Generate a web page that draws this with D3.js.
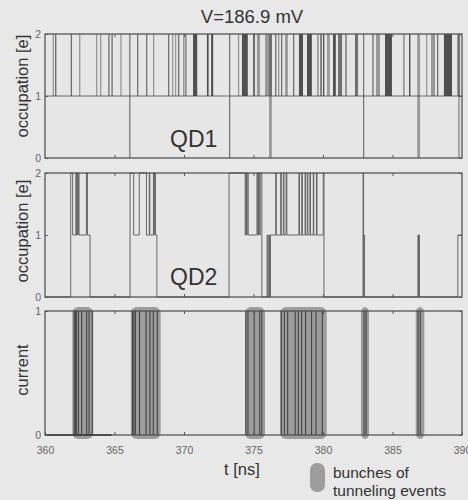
<!DOCTYPE html>
<html>
<head>
<meta charset="utf-8">
<script src="https://cdn.jsdelivr.net/npm/d3@7/dist/d3.min.js"></script>
<style>
  html, body { margin: 0; padding: 0; background: #e8e8e8; }
  svg { display: block; font-family: "Liberation Sans", Arial, Helvetica, sans-serif; }
</style>
</head>
<body>
<svg id="chart" width="468" height="500"></svg>
<script>
// ---------------- DATA ----------------
const title = "V=186.9 mV";
const timeDomain = [360, 390];
const timeTicks = [360, 365, 370, 375, 380, 385, 390];
const occTicks = [0, 1, 2];
const currentTicks = [0, 1];

// QD1: dot sits at occupation 1; excursions to 2 as [t (ns), duration (ns), events]
const qd1Spikes = [
  [360.55, 0.04, 1], [360.72, 0.10, 2], [361.85, 0.05, 2], [362.45, 0.04, 1],
  [363.67, 0.03, 1], [363.96, 0.03, 1], [364.55, 0.08, 2], [364.78, 0.08, 2],
  [365.42, 0.04, 1], [366.62, 0.04, 2], [367.27, 0.05, 2], [367.77, 0.04, 1],
  [368.85, 0.05, 2], [369.14, 0.04, 1], [369.35, 0.05, 1], [369.57, 0.04, 2],
  [369.93, 0.05, 1], [370.05, 0.15, 1], [370.65, 0.30, 3], [371.65, 0.12, 3],
  [371.95, 0.15, 3], [373.88, 0.05, 1], [374.17, 0.42, 3], [374.96, 0.15, 2],
  [375.25, 0.22, 1], [375.83, 0.50, 1], [376.55, 0.04, 2], [376.76, 0.10, 1],
  [376.98, 0.07, 2], [377.27, 0.20, 1], [377.84, 0.05, 2], [378.27, 0.29, 3],
  [378.85, 0.35, 3], [379.57, 0.12, 1], [379.80, 0.12, 2], [380.00, 0.05, 3],
  [380.29, 0.20, 1], [380.72, 0.20, 3], [381.08, 0.29, 2], [381.58, 0.15, 1],
  [382.30, 0.22, 2], [383.52, 0.15, 1], [383.81, 0.29, 1], [384.46, 0.50, 3],
  [385.76, 0.12, 1], [386.19, 0.10, 3], [387.41, 0.08, 1], [387.77, 0.29, 1],
  [388.20, 0.05, 2], [388.70, 0.58, 3], [389.64, 0.22, 1]
];
// QD1: emptying events (occupation drops to 0) as [t, duration, events]
const qd1Dips = [
  [366.06, 0.02, 2], [373.24, 0.02, 2], [376.12, 0.20, 1],
  [382.88, 0.02, 2], [386.78, 0.20, 1], [389.72, 0.12, 1]
];

// QD2: occupation trace, transition times (ns) and level after each transition
const qd2Times = [
  360, 361.85, 361.99, 362.22, 362.26, 362.31, 362.35, 362.40, 362.45, 362.98, 363.05, 363.24,
  366.12, 366.38, 366.78, 367.30, 367.50, 367.54, 367.80, 367.85, 367.90, 367.95, 368.05,
  373.24, 374.40, 374.45, 374.50, 374.55, 374.62, 375.25, 375.30, 375.36, 375.42, 375.48, 375.60,
  375.98, 376.03, 376.10, 376.15, 376.22, 376.60, 376.64, 376.96, 377.00, 377.15, 377.19,
  377.34, 377.40, 378.27, 378.31, 378.47, 378.51, 378.71, 378.75, 378.87, 378.91, 379.06,
  379.10, 379.30, 379.34, 379.53, 379.57, 380.02, 380.07, 382.88, 382.92, 382.95, 382.99,
  386.83, 386.87, 386.90, 386.94, 389.70, 390
];
const qd2Levels = [
  0, 2, 1, 2, 1, 2, 1, 2, 1, 2, 1, 0,
  2, 1, 2, 1, 2, 1, 2, 1, 2, 1, 0,
  2, 1, 2, 1, 2, 1, 2, 1, 2, 1, 2, 0,
  1, 0, 1, 0, 1, 2, 1, 2, 1, 2, 1,
  2, 1, 2, 1, 2, 1, 2, 1, 2, 1, 2,
  1, 2, 1, 2, 1, 2, 0, 2, 0, 1, 0,
  1, 0, 1, 0, 1, 1
];

// Current: single tunneling events through the double dot (ns)
const currentEvents = [
  362.10, 362.18, 362.25, 362.40, 362.64, 363.00, 363.17, 363.40,
  366.30, 366.40, 366.50, 366.80, 367.27, 367.55, 367.79, 368.08,
  374.45, 374.60, 375.05, 375.45, 375.60,
  377.00, 377.22, 377.46, 378.00, 378.22, 378.46, 378.75, 379.18, 379.50, 379.95,
  382.95, 383.10, 386.84, 387.00
];
// Bunches of tunneling events [start, end] (ns)
const bunches = [
  [361.96, 363.47], [366.17, 368.32], [374.39, 375.83],
  [376.91, 380.27], [382.73, 383.31], [386.67, 387.29]
];
const currentBaseline = [360, 364.8];

// ---------------- LAYOUT ----------------
const svg = d3.select("#chart");
const L = 45, R = 462;
const panels = [
  { top: 34, bottom: 158 },
  { top: 173, bottom: 297 },
  { top: 311, bottom: 435 }
];
const frameColor = "#4a4a4a";
const textColor = "#333";
const tickColor = "#5a5a5a";

const x = d3.scaleLinear().domain(timeDomain).range([L, R]);
const y1 = d3.scaleLinear().domain([0, 2]).range([panels[0].bottom, panels[0].top]);
const y2 = d3.scaleLinear().domain([0, 2]).range([panels[1].bottom, panels[1].top]);
const y3 = d3.scaleLinear().domain([0, 1]).range([panels[2].bottom, panels[2].top]);

const shade = d3.scaleThreshold().domain([2, 3]).range([0.45, 0.68, 0.88]);

function frame(p) {
  svg.append("rect")
    .attr("x", L).attr("y", p.top)
    .attr("width", R - L).attr("height", p.bottom - p.top)
    .attr("fill", "#e6e6e6");
}
function frameStroke(p) {
  svg.append("rect")
    .attr("x", L).attr("y", p.top)
    .attr("width", R - L).attr("height", p.bottom - p.top)
    .attr("fill", "none").attr("stroke", frameColor).attr("stroke-width", 1.2);
}
function innerTicks(p, yScale, yTicks, labels) {
  const inner = timeTicks.slice(1, -1);
  const gb = svg.append("g").attr("transform", `translate(0,${p.bottom})`)
    .call(d3.axisBottom(x).tickValues(labels ? timeTicks : inner).tickSize(-3).tickPadding(12)
      .tickFormat(labels ? d3.format("d") : () => ""));
  const gt = svg.append("g").attr("transform", `translate(0,${p.top})`)
    .call(d3.axisTop(x).tickValues(inner).tickSize(-3).tickFormat(() => ""));
  const gl = svg.append("g").attr("transform", `translate(${L},0)`)
    .call(d3.axisLeft(yScale).tickValues(yTicks).tickSize(-3).tickPadding(4).tickFormat(d3.format("d")));
  const gr = svg.append("g").attr("transform", `translate(${R},0)`)
    .call(d3.axisRight(yScale).tickValues(yTicks).tickSize(-3).tickFormat(() => ""));
  [gb, gt, gl, gr].forEach(g => {
    g.select(".domain").remove();
    g.selectAll(".tick line").attr("stroke", tickColor);
    g.selectAll(".tick text").attr("fill", "#666").attr("font-size", 10.5)
      .attr("font-family", "'Liberation Sans', Arial, sans-serif");
  });
}

panels.forEach(frame);

// ---- Panel 1: QD1 ----
svg.append("line")
  .attr("x1", x(timeDomain[0])).attr("x2", x(timeDomain[1]))
  .attr("y1", y1(1)).attr("y2", y1(1))
  .attr("stroke", "#6a6a6a").attr("stroke-width", 1);
svg.append("g").selectAll("rect").data(qd1Spikes).join("rect")
  .attr("x", d => x(d[0]))
  .attr("width", d => Math.max(1.3, x(d[0] + d[1]) - x(d[0])))
  .attr("y", y1(2)).attr("height", y1(1) - y1(2))
  .attr("fill", "#3a3a3a").attr("fill-opacity", d => shade(d[2]));
svg.append("g").selectAll("rect").data(qd1Dips).join("rect")
  .attr("x", d => x(d[0]))
  .attr("width", d => Math.max(1.2, x(d[0] + d[1]) - x(d[0])))
  .attr("y", y1(2)).attr("height", y1(0) - y1(2))
  .attr("fill", "#3a3a3a").attr("fill-opacity", d => shade(d[2]));

// ---- Panel 2: QD2 ----
const qd2 = qd2Times.map((t, i) => [t, qd2Levels[i]]);
svg.append("path")
  .datum(qd2)
  .attr("d", d3.line().x(d => x(d[0])).y(d => y2(d[1])).curve(d3.curveStepAfter))
  .attr("fill", "none").attr("stroke", "#666").attr("stroke-width", 1);

// ---- Panel 3: current ----
svg.append("g").selectAll("rect").data(bunches).join("rect")
  .attr("x", d => x(d[0])).attr("width", d => x(d[1]) - x(d[0]))
  .attr("y", y3(1) - 4).attr("height", y3(0) - y3(1) + 8)
  .attr("rx", 6).attr("ry", 6)
  .attr("fill", "#808080").attr("fill-opacity", 0.72);
svg.append("g").selectAll("line").data(currentEvents).join("line")
  .attr("x1", d => x(d)).attr("x2", d => x(d))
  .attr("y1", y3(0)).attr("y2", y3(1))
  .attr("stroke", "#3a3a3a").attr("stroke-width", 1);
svg.append("line")
  .attr("x1", x(currentBaseline[0])).attr("x2", x(currentBaseline[1]))
  .attr("y1", y3(0)).attr("y2", y3(0))
  .attr("stroke", "#222").attr("stroke-width", 1.6);

panels.forEach(frameStroke);
innerTicks(panels[0], y1, occTicks, false);
innerTicks(panels[1], y2, occTicks, false);
innerTicks(panels[2], y3, currentTicks, true);

// ---- Texts ----
svg.append("text").attr("x", 252).attr("y", 23).attr("text-anchor", "middle")
  .attr("font-size", 18.5).attr("fill", textColor).text(title);
svg.append("text").attr("x", 170).attr("y", 147)
  .attr("font-size", 23).attr("fill", textColor).text("QD1");
svg.append("text").attr("x", 170).attr("y", 285)
  .attr("font-size", 23).attr("fill", textColor).text("QD2");

function yLabel(txt, p, dy) {
  const cy = (p.top + p.bottom) / 2 + dy;
  svg.append("text")
    .attr("transform", `translate(28,${cy}) rotate(-90)`)
    .attr("text-anchor", "middle").attr("font-size", 16.5).attr("fill", textColor)
    .text(txt);
}
yLabel("occupation [e]", panels[0], -10);
yLabel("occupation [e]", panels[1], -4);
yLabel("current", panels[2], -3);

svg.append("text").attr("x", 242).attr("y", 475).attr("text-anchor", "middle")
  .attr("font-size", 16.5).attr("fill", textColor).text("t [ns]");

// Legend
svg.append("rect").attr("x", 310).attr("y", 463).attr("width", 15).attr("height", 29)
  .attr("rx", 7).attr("ry", 7).attr("fill", "#808080").attr("fill-opacity", 0.72);
svg.append("text").attr("x", 333).attr("y", 478).attr("font-size", 15.5)
  .attr("fill", textColor).text("bunches of");
svg.append("text").attr("x", 333).attr("y", 496).attr("font-size", 15.5)
  .attr("fill", textColor).text("tunneling events");
</script>
</body>
</html>
